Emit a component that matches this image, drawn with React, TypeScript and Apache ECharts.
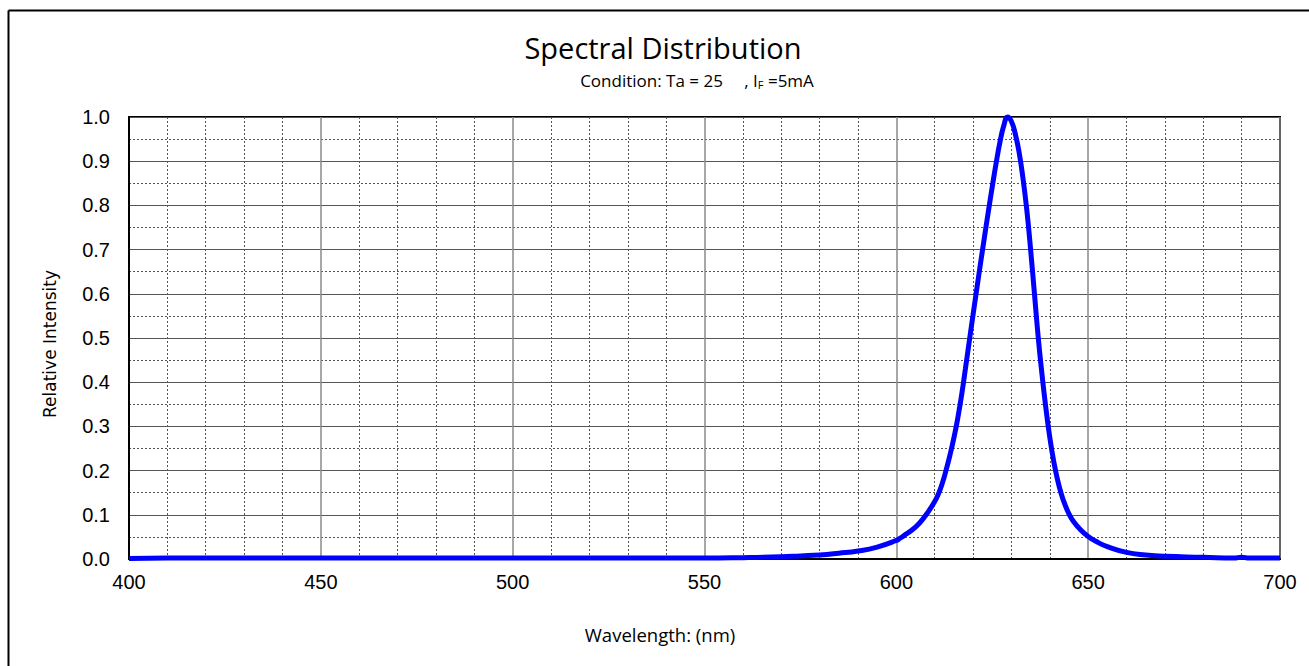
import React, { useEffect, useRef } from "react";
import * as echarts from "echarts";

const wavelengths = [
  400, 410, 420, 430, 440, 450, 460, 470, 480, 490, 500, 510, 520, 530, 540, 550,
  560, 570, 575, 580, 585, 590, 595, 600, 601, 602, 604, 606, 608, 610, 611, 612,
  613, 614, 615, 616, 617, 618, 619, 620, 621, 622, 623, 624, 625, 626, 627, 628,
  629, 630, 631, 632, 633, 634, 635, 636, 637, 638, 639, 640, 641, 642, 643, 644,
  645, 646, 648, 650, 652, 655, 660, 665, 670, 680, 688, 690, 692, 695, 700,
];
const intensity = [
  0.001, 0.002, 0.002, 0.002, 0.002, 0.002, 0.002, 0.002, 0.002, 0.002, 0.002, 0.002, 0.002, 0.002, 0.002, 0.002,
  0.003, 0.005, 0.007, 0.009, 0.013, 0.018, 0.027, 0.042, 0.047, 0.053, 0.065, 0.081, 0.103, 0.13, 0.148, 0.172,
  0.202, 0.236, 0.274, 0.318, 0.37, 0.43, 0.492, 0.553, 0.613, 0.672, 0.73, 0.787, 0.842, 0.895, 0.943, 0.98,
  1.0, 0.99, 0.962, 0.92, 0.862, 0.79, 0.7, 0.6, 0.5, 0.415, 0.34, 0.275, 0.222, 0.18, 0.147, 0.122,
  0.102, 0.087, 0.066, 0.051, 0.04, 0.028, 0.015, 0.009, 0.006, 0.004, 0.002, 0.004, 0.002, 0.002, 0.002,
];

const xMin = 400;
const xMax = 700;
const xStep = 50;
const yMin = 0;
const yMax = 1;
const yStep = 0.1;

const titleText = "Spectral Distribution";
const xName = "Wavelength: (nm)";
const yName = "Relative Intensity";

export default function App() {
  const ref = useRef<HTMLDivElement>(null);
  useEffect(() => {
    if (!ref.current) return;
    const chart = echarts.init(ref.current, null, { renderer: "svg" });
    const data = wavelengths.map((w, i) => [w, intensity[i]]);
    chart.setOption({
      animation: false,
      backgroundColor: "#ffffff",
      grid: {
        left: 129,
        top: 117,
        width: 1151,
        height: 442,
        show: true,
        borderColor: "#000000",
        borderWidth: 2,
        backgroundColor: "transparent",
      },
      graphic: [
        { type: "line", shape: { x1: 8.5, y1: 10.5, x2: 1400, y2: 10.5 }, style: { stroke: "#000", lineWidth: 2 } },
        { type: "line", shape: { x1: 8.5, y1: 10.5, x2: 8.5, y2: 700 }, style: { stroke: "#000", lineWidth: 2 } },
        {
          type: "text",
          x: 663,
          y: 47,
          style: {
            text: titleText,
            font: "29px 'Open Sans'",
            fill: "#000",
            textAlign: "center",
            textVerticalAlign: "middle",
          },
        },
        {
          type: "text",
          x: 697,
          y: 80,
          style: {
            text: "Condition: Ta = 25　 , I{sub|F} =5mA",
            font: "17px 'Open Sans'",
            fill: "#000",
            textAlign: "center",
            textVerticalAlign: "middle",
            rich: {
              sub: { fontSize: 11, fontFamily: "Open Sans", verticalAlign: "bottom", padding: [8, 0, 0, 0] },
            },
          },
        },
        {
          type: "text",
          x: 660,
          y: 634,
          style: {
            text: xName,
            font: "18.5px 'Open Sans'",
            fill: "#000",
            textAlign: "center",
            textVerticalAlign: "middle",
          },
        },
        {
          type: "text",
          x: 50,
          y: 344,
          rotation: Math.PI / 2,
          style: {
            text: yName,
            font: "17px 'DejaVu Sans'",
            fill: "#000",
            textAlign: "center",
            textVerticalAlign: "middle",
          },
        },
      ],
      xAxis: {
        type: "value",
        min: xMin,
        max: xMax,
        interval: xStep,
        axisLine: { show: true, lineStyle: { color: "#000", width: 2 } },
        axisTick: { show: false },
        axisLabel: { fontSize: 20, fontFamily: "Liberation Sans", color: "#000", margin: 13 },
        splitLine: { show: true, lineStyle: { color: "#8a8a8a", width: 1.5 } },
        minorTick: { show: false, splitNumber: 5 },
        minorSplitLine: { show: true, lineStyle: { color: "#555", width: 1, type: [2, 2] } },
      },
      yAxis: {
        type: "value",
        min: yMin,
        max: yMax,
        interval: yStep,
        axisLine: { show: true, lineStyle: { color: "#000", width: 2 } },
        axisTick: { show: false },
        axisLabel: {
          fontSize: 20,
          fontFamily: "Liberation Sans",
          color: "#000",
          margin: 19,
          formatter: (v: number) => v.toFixed(1),
        },
        splitLine: { show: true, lineStyle: { color: "#555", width: 1 } },
        minorTick: { show: false, splitNumber: 2 },
        minorSplitLine: { show: true, lineStyle: { color: "#555", width: 1, type: [2, 2] } },
      },
      series: [
        {
          type: "line",
          data,
          smooth: 0.5,
          showSymbol: false,
          symbol: "none",
          lineStyle: { color: "#0000ff", width: 5 },
          clip: false,
          z: 5,
        },
      ],
    });
    return () => chart.dispose();
  }, []);
  return (
    <div
      ref={ref}
      style={{ position: "absolute", left: 0, top: 0, width: 1309, height: 666 }}
    />
  );
}
